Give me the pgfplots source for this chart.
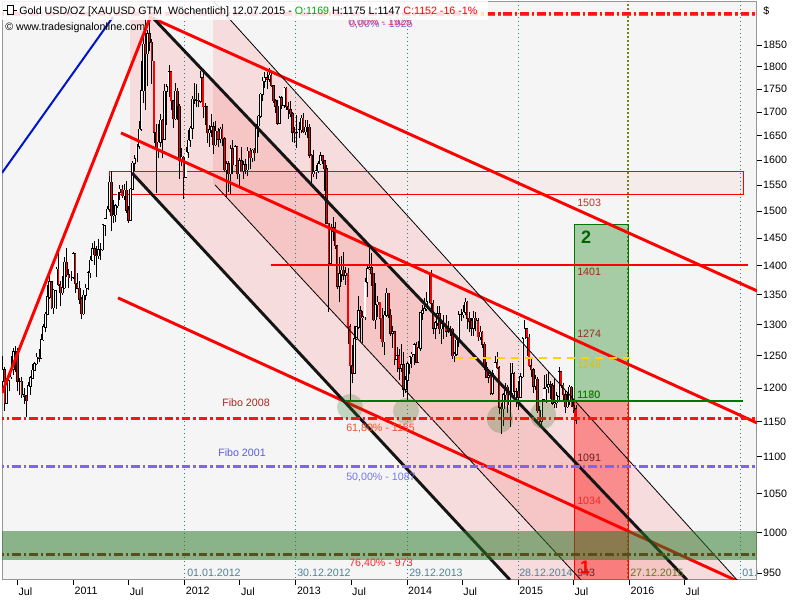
\documentclass[border=0pt]{standalone}
\usepackage{fontspec}
\setmainfont{Liberation Sans}
\usepackage{pgfplots}
\usepackage{pgfplotstable}
\pgfplotsset{compat=1.18}

\definecolor{bggray}{RGB}{245,245,245}
\definecolor{framegray}{RGB}{150,150,150}
\definecolor{dotteal}{RGB}{40,130,140}
\definecolor{datelbl}{RGB}{80,130,150}
\definecolor{dotolive}{RGB}{110,130,40}
\definecolor{fibred}{RGB}{255,20,20}
\definecolor{fibpurple}{RGB}{128,100,235}
\definecolor{fibbrown}{RGB}{140,40,10}
\definecolor{dkgreen}{RGB}{0,120,0}
\definecolor{bandgreen}{RGB}{40,120,40}
\definecolor{goldline}{RGB}{255,210,0}
\definecolor{lblbrown}{RGB}{160,40,30}
\definecolor{lbldark}{RGB}{110,30,30}
\definecolor{blk}{RGB}{20,20,20}
\definecolor{chblue}{RGB}{0,20,200}
\definecolor{levelred}{RGB}{255,0,0}

% weekly candles, first week ends 14.05.2010, last 10.07.2015
\pgfplotstableread{
o h l c
1210 1249 1200 1228
1228 1232 1166 1177
1177 1217 1177 1212
1212 1226 1195 1217
1217 1250 1214 1229
1229 1262 1220 1256
1256 1265 1225 1256
1256 1262 1195 1210
1210 1215 1189 1210
1210 1217 1185 1190
1190 1200 1176 1188
1188 1190 1157 1181
1181 1209 1180 1203
1203 1218 1190 1215
1215 1237 1214 1227
1227 1240 1226 1237
1237 1254 1235 1247
1247 1260 1240 1246
1246 1284 1244 1275
1275 1300 1273 1296
1296 1320 1287 1317
1317 1366 1315 1346
1346 1388 1342 1372
1372 1374 1325 1328
1328 1360 1318 1357
1357 1398 1325 1394
1394 1424 1364 1367
1367 1373 1330 1353
1353 1382 1350 1362
1362 1415 1360 1406
1406 1432 1381 1384
1384 1395 1362 1379
1379 1391 1374 1380
1380 1424 1376 1421
1421 1423 1353 1369
1369 1388 1359 1361
1361 1373 1334 1342
1342 1346 1309 1318
1318 1358 1315 1349
1349 1369 1340 1361
1361 1390 1358 1388
1388 1418 1378 1410
1410 1440 1408 1430
1430 1445 1402 1420
1420 1436 1381 1418
1418 1448 1412 1429
1429 1440 1411 1429
1429 1476 1427 1474
1474 1487 1453 1486
1486 1509 1485 1503
1503 1568 1499 1556
1556 1577 1462 1491
1491 1522 1478 1493
1493 1513 1480 1510
1510 1537 1505 1536
1536 1550 1521 1542
1542 1551 1525 1529
1529 1553 1522 1540
1540 1558 1496 1502
1502 1510 1478 1483
1483 1545 1482 1542
1542 1597 1540 1593
1593 1610 1577 1602
1602 1632 1596 1628
1628 1681 1623 1663
1663 1814 1660 1746
1746 1877 1720 1852
1852 1912 1705 1829
1829 1885 1756 1876
1876 1921 1835 1856
1856 1864 1761 1813
1813 1814 1635 1657
1657 1675 1535 1622
1622 1675 1605 1636
1636 1695 1626 1682
1682 1684 1604 1642
1642 1760 1640 1745
1745 1762 1672 1755
1755 1803 1732 1788
1788 1790 1704 1724
1724 1726 1666 1685
1685 1764 1683 1745
1745 1753 1683 1712
1712 1717 1563 1598
1598 1625 1587 1606
1606 1608 1523 1565
1565 1626 1565 1616
1616 1661 1604 1640
1640 1670 1627 1665
1665 1734 1643 1728
1728 1764 1718 1725
1725 1760 1711 1725
1725 1740 1710 1723
1723 1790 1720 1775
1775 1792 1688 1711
1711 1720 1672 1711
1711 1713 1635 1656
1656 1673 1627 1662
1662 1696 1646 1668
1668 1679 1612 1631
1631 1680 1628 1659
1659 1665 1626 1642
1642 1667 1634 1663
1663 1674 1628 1643
1643 1647 1576 1580
1580 1597 1527 1592
1592 1597 1537 1572
1572 1630 1533 1623
1623 1641 1571 1590
1590 1630 1587 1627
1627 1628 1562 1572
1572 1605 1546 1598
1598 1626 1577 1578
1578 1597 1563 1590
1590 1601 1571 1580
1580 1626 1567 1618
1618 1625 1581 1605
1605 1622 1596 1620
1620 1624 1598 1615
1615 1675 1614 1670
1670 1693 1647 1691
1691 1742 1687 1738
1738 1777 1723 1767
1767 1787 1753 1775
1775 1787 1750 1772
1772 1796 1765 1780
1780 1788 1755 1757
1757 1759 1720 1724
1724 1727 1697 1712
1712 1726 1672 1676
1676 1735 1675 1731
1731 1735 1707 1714
1714 1754 1708 1751
1751 1755 1705 1711
1711 1722 1685 1705
1705 1723 1690 1696
1696 1699 1636 1657
1657 1668 1635 1656
1656 1694 1625 1656
1656 1679 1645 1662
1662 1693 1655 1687
1687 1697 1655 1658
1658 1683 1651 1667
1667 1683 1644 1667
1667 1675 1605 1609
1609 1612 1555 1572
1572 1620 1565 1576
1576 1590 1562 1578
1578 1597 1574 1592
1592 1616 1590 1608
1608 1611 1591 1598
1598 1600 1539 1582
1582 1590 1476 1477
1477 1478 1321 1405
1405 1476 1402 1462
1462 1488 1445 1469
1469 1479 1430 1436
1436 1438 1359 1364
1364 1416 1338 1386
1386 1418 1372 1392
1392 1424 1375 1383
1383 1398 1366 1387
1387 1396 1269 1296
1296 1300 1180 1234
1234 1267 1207 1223
1223 1297 1222 1277
1277 1298 1275 1296
1296 1348 1292 1323
1323 1331 1271 1311
1311 1323 1270 1313
1313 1378 1308 1371
1371 1400 1346 1395
1395 1434 1392 1396
1396 1423 1365 1387
1387 1388 1306 1308
1308 1370 1292 1333
1333 1348 1313 1337
1337 1338 1277 1310
1310 1328 1264 1272
1272 1322 1251 1315
1315 1361 1313 1352
1352 1353 1310 1315
1315 1326 1281 1286
1286 1297 1262 1288
1288 1289 1235 1244
1244 1263 1225 1250
1250 1261 1212 1230
1230 1268 1224 1235
1235 1256 1186 1198
1198 1218 1192 1212
1212 1240 1182 1237
1237 1249 1221 1248
1248 1256 1231 1252
1252 1270 1235 1267
1267 1272 1238 1240
1240 1273 1238 1262
1262 1320 1258 1319
1319 1332 1308 1323
1323 1345 1322 1326
1326 1355 1322 1338
1338 1386 1336 1383
1383 1392 1322 1335
1335 1341 1285 1294
1294 1306 1277 1303
1303 1331 1298 1318
1318 1331 1285 1293
1293 1305 1268 1300
1300 1315 1277 1302
1302 1315 1280 1289
1289 1305 1286 1293
1293 1297 1282 1292
1292 1294 1245 1250
1250 1255 1240 1252
1252 1280 1250 1274
1274 1322 1263 1316
1316 1325 1305 1316
1316 1332 1310 1320
1320 1345 1315 1337
1337 1339 1292 1310
1310 1320 1287 1305
1305 1311 1282 1294
1294 1322 1282 1310
1310 1320 1290 1306
1306 1310 1273 1280
1280 1297 1275 1287
1287 1290 1262 1268
1268 1272 1228 1231
1231 1240 1215 1216
1216 1228 1207 1218
1218 1220 1190 1192
1192 1227 1190 1222
1222 1250 1222 1239
1239 1255 1229 1231
1231 1233 1161 1171
1171 1178 1132 1169
1169 1193 1143 1190
1190 1208 1180 1201
1201 1205 1163 1175
1175 1238 1142 1192
1192 1238 1190 1222
1222 1225 1186 1195
1195 1200 1172 1195
1195 1211 1167 1186
1186 1223 1185 1217
1217 1280 1215 1277
1277 1307 1277 1293
1293 1294 1250 1279
1279 1284 1232 1234
1234 1245 1216 1228
1228 1230 1192 1203
1203 1220 1197 1213
1213 1217 1163 1166
1166 1173 1148 1151
1151 1184 1142 1183
1183 1219 1181 1199
1199 1221 1178 1201
1201 1224 1192 1205
1205 1210 1183 1203
1203 1208 1174 1177
1177 1214 1170 1178
1178 1194 1170 1188
1188 1232 1182 1225
1225 1226 1200 1204
1204 1208 1182 1190
1190 1197 1162 1172
1172 1194 1170 1180
1180 1205 1175 1201
1201 1203 1171 1173
1173 1179 1162 1167
1169 1175 1147 1152
}\candles

\newcommand{\wk}{2010.3651+\coordindex*0.0191649}

\begin{document}
\begin{tikzpicture}
\useasboundingbox (0,0) rectangle (600pt,450pt);
\begin{axis}[
  at={(1.5pt,15pt)}, anchor=south west,
  scale only axis, width=566.25pt, height=433.5pt,
  xmin=2010.3588, xmax=2017.1482,
  ymode=log, ymin=941.8, ymax=1953.2,
  axis background/.style={fill=bggray},
  axis line style={framegray, line width=0.75pt},
  tick align=outside,
  xtick pos=bottom, ytick pos=right, yticklabel pos=right,
  xtick={2010.4964,2011,2011.4964,2012,2012.4973,2013,2013.4964,2014,2014.4964,2015,2015.4964,2016,2016.4973},
  xticklabels={Jul,2011,Jul,2012,Jul,2013,Jul,2014,Jul,2015,Jul,2016,Jul},
  ytick={950,1000,1050,1100,1150,1200,1250,1300,1350,1400,1450,1500,1550,1600,1650,1700,1750,1800,1850},
  yticklabels={950,1000,1050,1100,1150,1200,1250,1300,1350,1400,1450,1500,1550,1600,1650,1700,1750,1800,1850},
  yminorticks=false, xminorticks=false,
  major tick length=3.5pt,
  tick style={black, line width=0.6pt},
  xticklabel style={anchor=north west, inner sep=0pt, xshift=0.8pt, yshift=-2pt, font=\fontsize{8}{9.6}\selectfont},
  yticklabel style={anchor=west, inner sep=0pt, xshift=1pt, font=\fontsize{8}{9.6}\selectfont},
  candle/.style={forget plot, draw=none, mark=none, error bars/.cd, y dir=plus, y explicit, error mark=none},
]
% channel fills
\addplot[forget plot, draw=none, fill=red, fill opacity=0.1] coordinates {(2011.5099,1953.2) (2011.5800,1953.2) (2016.5189,941.8) (2014.9271,941.8) (2011.5279,1574.0) (2011.5099,1574.0)} -- cycle;
\addplot[forget plot, draw=none, fill=red, fill opacity=0.1] coordinates {(2012.2563,1953.2) (2012.2653,1953.2) (2016.9685,941.8) (2015.5656,941.8) (2012.2743,1550.4) (2012.2563,1550.4)} -- cycle;
% resistance box 1531-1576
\addplot[forget plot, draw=red, line width=0.75pt, fill=red, fill opacity=0.04] coordinates {(2011.3210,1531) (2017.0225,1531) (2017.0225,1576) (2011.3210,1576)} -- cycle;
% year separators
\foreach \t in {2011.9955,2012.9937,2014.0009,2014.9991,2016.9955}{
  \edef\tmp{\noexpand\addplot[forget plot, dotteal, line width=0.75pt, dash pattern=on 0.75pt off 2.25pt] coordinates {(\t,930) (\t,1990)};}
  \tmp
}
\addplot[forget plot, dotolive, line width=1.5pt, dash pattern=on 1.5pt off 1.5pt] coordinates {(2015.9883,930) (2015.9883,1990)};
% target boxes
\addplot[forget plot, draw=dkgreen, line width=0.75pt, fill=dkgreen, fill opacity=0.32] coordinates {(2015.5027,1180) (2015.9883,1180) (2015.9883,1475.4) (2015.5027,1475.4)} -- cycle;
\addplot[forget plot, draw=red, line width=0.75pt, fill=red, fill opacity=0.36] coordinates {(2015.5027,930) (2015.9883,930) (2015.9883,1180) (2015.5027,1180)} -- cycle;
% candles: wicks, body outline, down bodies, up bodies
\addplot[candle, error bar style={draw=black, line width=0.6pt}]
  table[x expr={\wk}, y=l, y error plus expr={\thisrow{h}-\thisrow{l}}] {\candles};
\addplot[candle, error bar style={draw=black, line width=1.8pt}]
  table[x expr={\wk}, y expr={min(\thisrow{o},\thisrow{c})-1}, y error plus expr={abs(\thisrow{c}-\thisrow{o})+2}] {\candles};
\addplot[candle, error bar style={draw=red, line width=0.9pt}]
  table[x expr={\wk}, y expr={(\thisrow{c}<\thisrow{o})*\thisrow{c}}, y error plus expr={\thisrow{o}-\thisrow{c}}] {\candles};
\addplot[candle, error bar style={draw=white, line width=0.8pt}]
  table[x expr={\wk}, y expr={(\thisrow{c}>=\thisrow{o})*\thisrow{o}}, y error plus expr={\thisrow{c}-\thisrow{o}}] {\candles};
% trend lines
\addplot[forget plot, chblue, line width=1.5pt] coordinates {(2010.3588,1574.0) (2011.3570,1916.6)};
\addplot[forget plot, red, line width=2.2pt] coordinates {(2010.3588,1192.4) (2011.6897,1914.2)};
\addplot[forget plot, red, line width=2.2pt] coordinates {(2011.6897,1916.6) (2017.1482,1356.3)};
\addplot[forget plot, red, line width=2.2pt] coordinates {(2011.4290,1655.5) (2017.1482,1148.1)};
\addplot[forget plot, red, line width=2.2pt] coordinates {(2011.4020,1344.4) (2017.1482,929.9)};
\addplot[forget plot, blk, line width=2.2pt] coordinates {(2011.7167,1914.2) (2016.5189,941.8)};
\addplot[forget plot, blk, line width=2.2pt] coordinates {(2011.5279,1574.0) (2014.9271,941.8)};
\addplot[forget plot, black, line width=0.6pt] coordinates {(2012.2653,1953.2) (2016.9685,941.8)};
\addplot[forget plot, black, line width=0.6pt] coordinates {(2012.2743,1550.4) (2015.5656,941.8)};
% horizontal levels
\addplot[forget plot, draw=levelred, line width=1.1pt] coordinates {(2012.7779,1401) (2017.0675,1401)};
\addplot[forget plot, dkgreen, line width=1.6pt] coordinates {(2013.4434,1180) (2017.0225,1180)};
\addplot[forget plot, goldline, line width=1.5pt, dash pattern=on 6pt off 4.5pt] coordinates {(2014.4325,1246) (2016.0063,1246)};
% Fibonacci levels
\addplot[forget plot, fibpurple, line width=2.2pt, dash pattern=on 6.5pt off 2.2pt on 1.8pt off 2.2pt] coordinates {(2010.3,1921.4) (2017.2,1921.4)};
\addplot[forget plot, fibred, line width=2.2pt, dash pattern=on 6.5pt off 2.2pt on 1.8pt off 2.2pt] coordinates {(2010.3,1925) (2017.2,1925)};
\addplot[forget plot, fibred, line width=2.2pt, dash pattern=on 6.5pt off 2.2pt on 1.8pt off 2.2pt] coordinates {(2010.3,1155) (2017.2,1155)};
\addplot[forget plot, fibpurple, line width=2.2pt, dash pattern=on 6.5pt off 2.2pt on 1.8pt off 2.2pt] coordinates {(2010.3,1087) (2017.2,1087)};
\addplot[forget plot, fibbrown, line width=2.2pt, dash pattern=on 6.5pt off 2.2pt on 1.8pt off 2.2pt] coordinates {(2010.3,973) (2017.2,973)};
% support band
\addplot[forget plot, draw=none, fill=bandgreen, fill opacity=0.52] coordinates {(2010.3,966) (2017.2,966) (2017.2,1002) (2010.3,1002)} -- cycle;
% marked lows
\fill[bandgreen, opacity=0.25] (axis cs:2013.4883,1171.5) ellipse [x radius=9.75pt, y radius=9.75pt];
\fill[bandgreen, opacity=0.25] (axis cs:2013.9919,1165.6) ellipse [x radius=9.75pt, y radius=9.75pt];
\fill[bandgreen, opacity=0.25] (axis cs:2014.8372,1153.9) ellipse [x radius=9.75pt, y radius=10.5pt];
\fill[bandgreen, opacity=0.25] (axis cs:2015.2239,1159.8) ellipse [x radius=9.75pt, y radius=10.5pt];
\end{axis}

% texts, in pixel units from the top left corner
\begin{scope}[shift={(0pt,450pt)}, x=0.75pt, y=-0.75pt,
  every node/.style={font=\fontsize{8}{9.6}\selectfont, inner sep=0pt}]
\begin{scope}
\clip (2,2) rectangle (757,580);
\node[anchor=west, datelbl] at (187,573) {01.01.2012};
\node[anchor=west, datelbl] at (297,573) {30.12.2012};
\node[anchor=west, datelbl] at (409,573) {29.12.2013};
\node[anchor=west, datelbl] at (519,573) {28.12.2014};
\node[anchor=west, dotolive!90!black] at (630,573) {27.12.2015};
\node[anchor=west, datelbl] at (742,573) {01.0};
\node[anchor=west, color={rgb,255:red,170;green,40;blue,30}] at (222,403) {Fibo 2008};
\node[anchor=west, color={rgb,255:red,240;green,80;blue,40}] at (346,428) {61,80\% - 1155};
\node[anchor=west, color={rgb,255:red,90;green,90;blue,230}] at (218,453) {Fibo 2001};
\node[anchor=west, color={rgb,255:red,120;green,120;blue,235}] at (346,477) {50,00\% - 1087};
\node[anchor=west, color={rgb,255:red,255;green,40;blue,40}] at (349,563) {76,40\% - 973};
\node[anchor=west, fibpurple] at (349,24) {0,00\% - 1925};
\node[anchor=west, color={rgb,255:red,240;green,50;blue,90}] at (348,22) {0,00\% - 1925};
\node[anchor=west, color={rgb,255:red,190;green,50;blue,40}] at (577,203) {1503};
\node[anchor=west, lblbrown] at (577,272) {1401};
\node[anchor=west, lblbrown] at (577,334) {1274};
\node[anchor=west, goldline!90!black] at (577,365) {1246};
\node[anchor=west, color={rgb,255:red,120;green,130;blue,40}] at (577,395) {1170};
\node[anchor=west, dkgreen] at (577,395) {1180};
\node[anchor=west, lbldark] at (577,458) {1091};
\node[anchor=west, color={rgb,255:red,240;green,40;blue,40}] at (577,501) {1034};
\node[anchor=west, lbldark] at (577,573) {943};
\node[font=\fontsize{13.5}{14}\selectfont\bfseries, dkgreen!85!black] at (586,237) {2};
\node[font=\fontsize{13.5}{14}\selectfont\bfseries, red] at (585,567) {1};
\end{scope}
% header
\fill[white, opacity=0.85] (0,0) rectangle (488,20);
\draw[black, line width=0.75pt] (7,6) rectangle (13,15);
\draw[black, line width=0.75pt] (3,10.5) -- (7,10.5) (13,10.5) -- (17,10.5);
\node[anchor=base west] at (19,15) {Gold USD/OZ [XAUUSD GTM\ \ Wöchentlich] 12.07.2015 - \textcolor[RGB]{0,170,0}{O:1169} H:1175 L:1147 \textcolor{red}{C:1152 -16 -1\%}};
\node[anchor=base west] at (5,31) {© www.tradesignalonline.com};
\node[anchor=base west] at (763,15) {\$};
\end{scope}
\end{tikzpicture}
\end{document}
